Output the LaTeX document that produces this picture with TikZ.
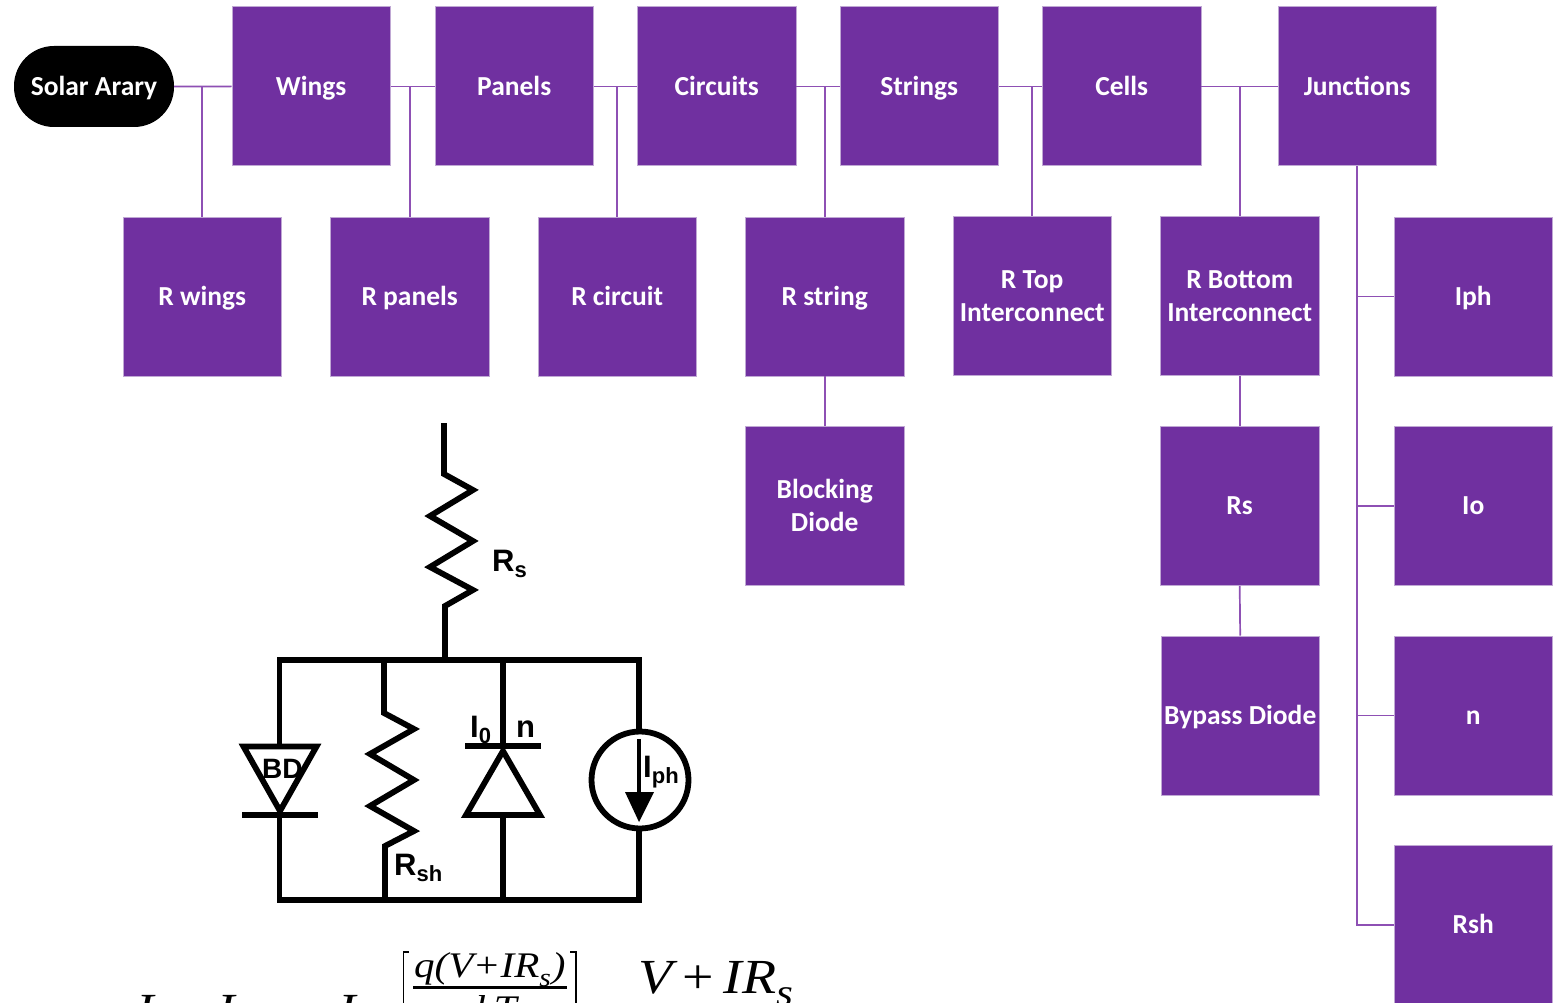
\documentclass[tikz,border=0pt]{standalone}
\usepackage{fontspec}
\setmainfont{Carlito}
\newfontfamily\cirf{Liberation Sans}
\newfontfamily\eqf[FakeStretch=1.14]{Liberation Serif}
\definecolor{boxpurple}{HTML}{7030A0}
\definecolor{boxedge}{HTML}{C0A8D4}
\definecolor{linkpurple}{HTML}{8E50B4}
\newcommand{\pstrut}{\rule[-5pt]{0pt}{28pt}}
\tikzset{
  pbox/.style={draw=boxedge,line width=0.8pt,fill=boxpurple,text=white,minimum width=158.6pt,minimum height=159pt,inner sep=0pt,align=center,font=\fontsize{27.5}{32.5}\selectfont\bfseries,anchor=north west,execute at begin node=\pstrut,execute at end node=\pstrut},
  startbox/.style={fill=black,text=white,rounded corners=40pt,minimum width=160pt,minimum height=81pt,inner sep=0pt,font=\fontsize{27.5}{32}\selectfont\bfseries,execute at begin node=\pstrut},
  link/.style={draw=linkpurple,line width=1.7pt},
  wire/.style={draw=black,line width=5.8pt,line join=miter},
  cirlab/.style={font=\cirf\fontsize{31}{32}\selectfont\bfseries,inner sep=0pt,anchor=base west,text=black},
  eqlab/.style={font=\eqf\itshape\fontsize{#1}{#1}\selectfont,inner sep=0pt,anchor=base west,text=black},
}
\newcommand{\subtxt}[1]{\raisebox{-0.22em}{\fontsize{22}{22}\selectfont #1}}
\newcommand{\eqsub}[2]{\raisebox{-0.25em}{\fontsize{#1}{#1}\selectfont #2}}
\begin{document}
\begin{tikzpicture}[x=1pt,y=-1pt]
\useasboundingbox (0,0) rectangle (1557,1003);
\clip (0,0) rectangle (1557,1003);
\fill[white] (0,0) rectangle (1557,1003);
% top row
\node[startbox] (sa) at (94,86.5) {Solar Arary};
\node[pbox] (wings) at (231.5,6.5) {Wings};
\node[pbox] (panels) at (434.5,6.5) {Panels};
\node[pbox] (circuits) at (637,6.5) {Circuits};
\node[pbox] (strings) at (839.5,6.5) {Strings};
\node[pbox] (cells) at (1042,6.5) {Cells};
\node[pbox] (junctions) at (1277.5,6.5) {Junctions};
% second row
\node[pbox] (rwings) at (122.5,216.5) {R wings};
\node[pbox] (rpanels) at (330,216.5) {R panels};
\node[pbox] (rcircuit) at (537.5,216.5) {R circuit};
\node[pbox] (rstring) at (745,216.5) {R string};
\node[pbox] (rtop) at (952.5,216) {\pstrut R Top\\Interconnect\pstrut};
\node[pbox] (rbottom) at (1160,216) {\pstrut R Bottom\\Interconnect\pstrut};
\node[pbox] (iph) at (1393.5,216.5) {Iph};
% third row
\node[pbox] (blocking) at (745,426) {\pstrut Blocking\\Diode\pstrut};
\node[pbox] (rs) at (1160,426) {Rs};
\node[pbox] (io) at (1393.5,426) {Io};
% fourth row
\node[pbox] (bypass) at (1160.5,635.5) {Bypass Diode};
\node[pbox] (n) at (1393.5,635.5) {n};
\node[pbox] (rsh) at (1393.5,845) {Rsh};
% connectors
\draw[link] (sa.east) -- (wings.west);
\draw[link] (wings.east) -- (panels.west);
\draw[link] (panels.east) -- (circuits.west);
\draw[link] (circuits.east) -- (strings.west);
\draw[link] (strings.east) -- (cells.west);
\draw[link] (cells.east) -- (junctions.west);
\draw[link] (rwings.north) -- (rwings.north |- sa.east);
\draw[link] (rpanels.north) -- (rpanels.north |- wings.east);
\draw[link] (rcircuit.north) -- (rcircuit.north |- panels.east);
\draw[link] (rstring.north) -- (rstring.north |- circuits.east);
\draw[link] (rtop.north) -- (rtop.north |- strings.east);
\draw[link] (rbottom.north) -- (rbottom.north |- cells.east);
\draw[link] (rstring.south) -- (blocking.north);
\draw[link] (rbottom.south) -- (rs.north);
\draw[link] (rs.south) -- (bypass.north);
\draw[link] (junctions.south) -- (junctions.south |- rsh.west) -- (rsh.west);
\draw[link] (junctions.south |- iph.west) -- (iph.west);
\draw[link] (junctions.south |- io.west) -- (io.west);
\draw[link] (junctions.south |- n.west) -- (n.west);
% circuit
\draw[wire] (444,423) -- (444,474) -- (473,490) -- (430,516) -- (473,541) -- (430,567) -- (473,590) -- (445,606) -- (445,660);
\draw[wire,line join=miter] (639,660) -- (279.5,660) -- (279.5,900) -- (639,900) -- cycle;
\draw[wire] (384,660) -- (384,713) -- (414,729) -- (370,754) -- (414,780) -- (370,806) -- (414,831) -- (385,846) -- (385,900);
\draw[wire] (503,660) -- (503,746);
\draw[wire] (503,815) -- (503,900);
% BD diode
\draw[wire,fill=white] (243.5,746.5) -- (316.5,746.5) -- (280,811) -- cycle;
\draw[wire] (242,815) -- (318,815);
% diode
\draw[wire] (465,746) -- (541,746);
\draw[wire] (503,751) -- (540,815) -- (466,815) -- cycle;
% source
\draw[wire,fill=white] (640,780) circle (48.5);
\draw[draw=black,line width=4.5pt] (639,739) -- (639,795);
\fill[black] (625,792) -- (654,792) -- (639,822) -- cycle;
% circuit labels
\node[cirlab] (lrs) at (492,571) {R\subtxt{s}};
\node[cirlab] (lbd) at (262,778) {\fontsize{28}{30}\selectfont BD};
\node[cirlab] (lrsh) at (394,875) {R\subtxt{sh}};
\node[cirlab] (li0) at (470,737) {I\subtxt{0}};
\node[cirlab] (ln) at (516,737) {n};
\node[cirlab] (liph) at (643,777) {I\subtxt{ph}};
% equation, cut off by the edge of the picture
\node[eqlab=46] (e1) at (136,1025) {I};
\node[eqlab=46] (e2) at (217,1025) {I};
\node[eqlab=46] (e3) at (338,1025) {I};
\node[eqlab=36] (e4) at (414,977) {q(V\kern2pt{\upshape+}\kern2pt IR\eqsub{26}{s}\kern1pt)};
\node[eqlab=36] (e5) at (455,1020) {nkT};
\node[eqlab=49] (e6) at (638,993) {V\kern10pt{\upshape+}\kern10pt IR\eqsub{38}{s}};
\draw[black,line width=2.5pt] (413,987.5) -- (567,987.5);
\draw[black,line width=1.6pt] (409,952) -- (403.5,952) -- (403.5,1003);
\draw[black,line width=1.6pt] (570,952) -- (576,952) -- (576,1003);
\end{tikzpicture}
\end{document}
